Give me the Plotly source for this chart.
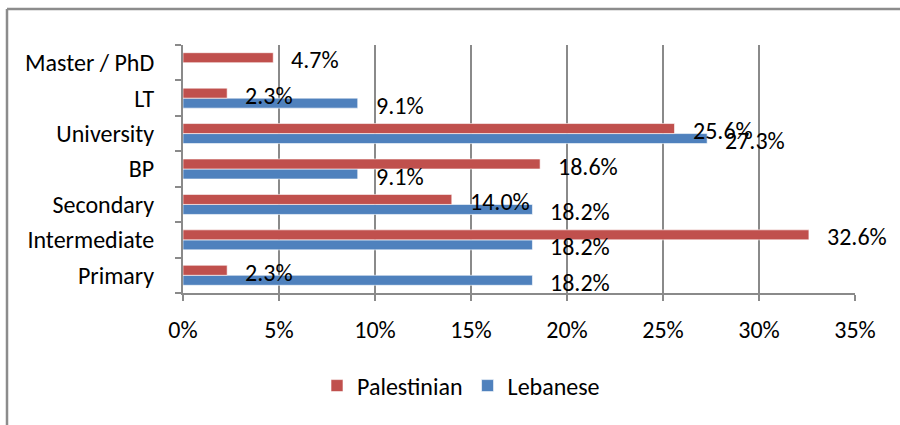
import plotly.graph_objects as go

categories = ["Primary", "Intermediate", "Secondary", "BP", "University", "LT", "Master / PhD"]
palestinian = [2.3, 32.6, 14.0, 18.6, 25.6, 2.3, 4.7]
lebanese = [18.2, 18.2, 18.2, 9.1, 27.3, 9.1, None]
x_ticks = [0, 5, 10, 15, 20, 25, 30, 35]

RED = "#C0504D"
BLUE = "#4F81BD"
GRID = "#8A8A8A"
FONT = "Carlito, Lato, 'Open Sans', sans-serif"
FS = 24

fig = go.Figure()
fig.add_trace(go.Bar(y=categories, x=lebanese, orientation="h", name="Lebanese",
                     marker=dict(color=BLUE, line=dict(color="white", width=0.6))))
fig.add_trace(go.Bar(y=categories, x=palestinian, orientation="h", name="Palestinian",
                     marker=dict(color=RED, line=dict(color="white", width=0.6))))

annotations = []
for series, dy in ((palestinian, 3), (lebanese, -7)):
    for cat, v in zip(categories, series):
        if v is None:
            continue
        annotations.append(dict(x=v, y=cat, xref="x", yref="y", text=f"{v:.1f}%",
                                showarrow=False, xanchor="left", yanchor="middle",
                                xshift=16, yshift=dy,
                                font=dict(family=FONT, size=FS, color="#000")))

L, R, T, B = 183, 45, 45, 132
W, H = 900, 425
pw, ph = W - L - R, H - T - B
def px(xp):
    return (xp - L) / pw
def py(yp):
    return (H - B - yp) / ph

shapes = [
    dict(type="line", xref="paper", yref="paper", x0=px(7), x1=px(905), y0=py(9), y1=py(9),
         line=dict(color="#8C8C8C", width=2.5)),
    dict(type="line", xref="paper", yref="paper", x0=px(7), x1=px(7), y0=py(9), y1=py(430),
         line=dict(color="#8C8C8C", width=2.5)),
]

fig.update_layout(
    width=W, height=H,
    margin=dict(l=L, r=R, t=T, b=B, autoexpand=False),
    paper_bgcolor="white", plot_bgcolor="white",
    barmode="group", bargap=0.435, bargroupgap=0,
    font=dict(family=FONT, size=FS, color="#000"),
    showlegend=True,
    legend=dict(orientation="h", x=px(317), xanchor="left", y=py(386), yanchor="middle",
                traceorder="reversed", font=dict(family=FONT, size=FS, color="#000"),
                itemclick=False),
    annotations=annotations,
    shapes=shapes,
    xaxis=dict(range=[0, 35], tickvals=x_ticks, ticktext=[f"{t}%" for t in x_ticks],
               showgrid=True, gridcolor=GRID, gridwidth=2, zeroline=False,
               showline=True, linecolor=GRID, linewidth=2,
               ticks="outside", ticklen=6, tickwidth=2, tickcolor=GRID,
               ticklabelstandoff=8, fixedrange=True),
    yaxis=dict(categoryorder="array", categoryarray=categories,
               range=[-0.5, len(categories) - 0.5], autorange=False,
               showgrid=False, zeroline=False,
               showline=True, linecolor=GRID, linewidth=2,
               ticks="outside", ticklen=6, tickwidth=2, tickcolor=GRID,
               tickson="boundaries", ticklabelstandoff=22, fixedrange=True),
)

fig.write_html("out.html", config={"displayModeBar": False},
               post_script="document.body.style.margin='0';document.body.style.overflow='hidden';")
